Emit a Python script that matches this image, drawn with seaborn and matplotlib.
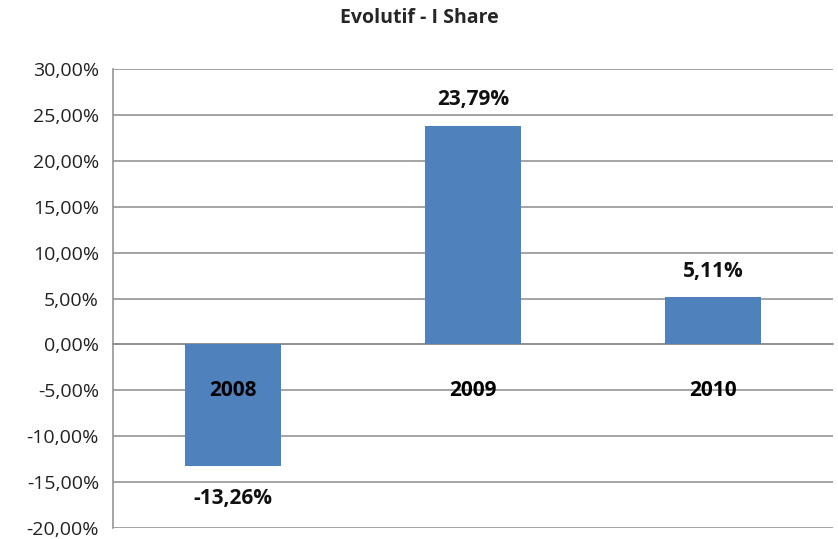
import numpy as np
import pandas as pd
import matplotlib
matplotlib.use("Agg")
import matplotlib.pyplot as plt
import seaborn as sns
from matplotlib.ticker import FuncFormatter, FixedLocator

# data
years = ['2008', '2009', '2010']
returns = [-13.26, 23.79, 5.11]

df = pd.DataFrame({'year': years, 'ret': returns})

sns.set_style('white')
plt.rcParams['font.family'] = ['Open Sans', 'DejaVu Sans']

fig = plt.figure(figsize=(8.38, 5.39), dpi=100)
ax = fig.add_axes([113/838, 11/539, 720/838, 459/539])

sns.barplot(data=df, x='year', y='ret', color='#4F81BD', width=0.4,
            saturation=1, linewidth=0, ax=ax, zorder=3)

ax.set_ylim(-20, 30)
ax.set_xlim(-0.5, 2.5)
ax.set_yticks(np.arange(-20, 31, 5))
ax.yaxis.set_major_formatter(FuncFormatter(lambda v, p: f"{v:.2f}%".replace('.', ',')))
ax.grid(axis='y', color='#8c8c8c', linewidth=1.1, zorder=0)
ax.set_axisbelow(True)

for s in ['top', 'right']:
    ax.spines[s].set_visible(False)
ax.spines['left'].set_color('#8c8c8c')
ax.spines['left'].set_linewidth(1.1)
ax.spines['bottom'].set_position(('data', 0))
ax.spines['bottom'].set_color('#8c8c8c')
ax.spines['bottom'].set_linewidth(1.1)

ax.tick_params(axis='y', length=6, color='#8c8c8c', labelsize=14, labelcolor='#222222', pad=4)
ax.xaxis.set_minor_locator(FixedLocator([0.5, 1.5, 2.5]))
ax.tick_params(axis='x', which='minor', length=8, direction='out', color='#8c8c8c', width=1.1)
ax.tick_params(axis='x', which='major', length=0, labelbottom=False)
ax.set_xlabel('')
ax.set_ylabel('')

# category labels sit just under the zero line, on top of the bars
for x, yr in zip(ax.get_xticks(), years):
    ax.annotate(yr, (x, 0), xytext=(0, -33), textcoords='offset points',
                ha='center', va='center', fontsize=15, fontweight='bold',
                color='#000000', zorder=5)

for x, v in zip(ax.get_xticks(), returns):
    off = 19 if v > 0 else -23
    ax.annotate(f"{v:.2f}%".replace('.', ','), (x, v), xytext=(0, off),
                textcoords='offset points', ha='center', va='center',
                fontsize=15, fontweight='bold', color='#111111', zorder=5)

fig.text(0.5, 1 - 18/539, 'Evolutif - I Share', ha='center', va='center',
         fontsize=14, fontweight='bold')

fig.savefig('out.png', dpi=100)
